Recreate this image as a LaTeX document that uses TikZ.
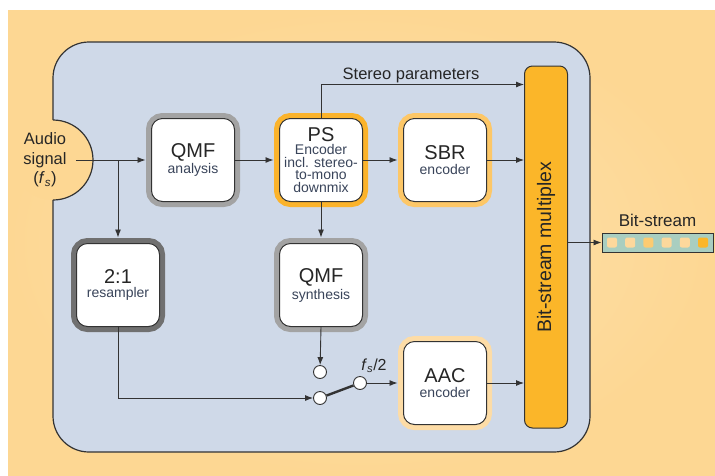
\documentclass[tikz,border=0pt]{standalone}
\usepackage{fontspec}
\setmainfont{Liberation Sans}
\usetikzlibrary{arrows.meta,positioning}

\definecolor{bgorange}{HTML}{FDD793}
\definecolor{bglight}{HTML}{FEE2B0}
\definecolor{panelblue}{HTML}{CFD9E8}
\definecolor{edgegray}{HTML}{333333}
\definecolor{framegray}{HTML}{A3A3A3}
\definecolor{framedark}{HTML}{707070}
\definecolor{frameps}{HTML}{FBB32B}
\definecolor{framesbr}{HTML}{FDC767}
\definecolor{frameaac}{HTML}{FDDCA6}
\definecolor{muxorange}{HTML}{FBB629}
\definecolor{bitsteal}{HTML}{A9CEC0}
\definecolor{bitpale}{HTML}{FDD89C}
\definecolor{bitmid}{HTML}{FDCB72}
\definecolor{titletext}{HTML}{262626}
\definecolor{subtext}{HTML}{39445A}

\newcommand{\titletxt}{\fontsize{20}{22}\selectfont\color{titletext}}
\newcommand{\fsamp}{\textit{f}\textsubscript{\textit{s}}}

\begin{document}
\begin{tikzpicture}[x=1pt,y=-1pt,>={Latex[length=8pt,width=6pt]},
	block/.style={draw=edgegray,fill=white,line width=1pt,rounded corners=11pt,
		minimum width=83pt,minimum height=83pt,align=center,inner sep=0pt,
		font=\fontsize{14}{12.5}\selectfont,text=subtext,
		preaction={draw=#1,line width=11pt}},
	conn/.style={draw=edgegray,line width=0.9pt},
	to_blk/.style={conn,->,shorten >=5.5pt},
	switch/.style={circle,draw=edgegray,fill=white,line width=0.9pt,inner sep=0pt,minimum size=13pt},
	lbl/.style={inner sep=0pt,text=titletext}]

	\useasboundingbox (0,0) rectangle (715,475);
	\shade[inner color=bglight,outer color=bgorange] (8,10) rectangle (715,475);

	% panel with the input notch
	\draw[draw=edgegray,fill=panelblue,line width=1.2pt,rounded corners=36pt] (53,42) rectangle (590,452);
	\fill[bgorange] (53,160) circle[radius=40];
	\draw[draw=edgegray,line width=1.2pt] (53,200) arc[start angle=90,end angle=-90,radius=40];

	\node[lbl,align=center,font=\fontsize{16.5}{19.5}\selectfont] (audio) at (45,160) {Audio\\signal\\(\fsamp)};
	\coordinate[right=9pt of audio.east] (audio_out);
	\coordinate (split) at (118,160);

	\node[block=framegray] (qmf_a) at (193,160) {\titletxt QMF\\[2pt]analysis};
	\node[block=frameps]   (ps_enc) at (321,160) {\titletxt PS\\[1pt]Encoder\\incl. stereo-\\to-mono\\downmix};
	\node[block=framesbr]  (sbr_enc) at (445,160) {\titletxt SBR\\[2pt]encoder};
	\node[block=framedark] (res) at (118,285) {\titletxt 2:1\\[2pt]resampler};
	\node[block=framegray] (qmf_s) at (321,285) {\titletxt QMF\\[2pt]synthesis};
	\node[block=frameaac]  (aac_enc) at (445,383) {\titletxt AAC\\[2pt]encoder};

	\node[draw=edgegray,fill=muxorange,line width=1pt,rounded corners=8pt,rotate=90,
		minimum width=362pt,minimum height=43pt,font=\fontsize{19.5}{21}\selectfont,text=titletext] (mux) at (546,247) {Bit-stream multiplex};

	\node[switch] (sw_a) at (320,372) {};
	\node[switch] (sw_b) at (320,398) {};
	\node[switch] (sw_c) at (360,383) {};
	\node[lbl,font=\fontsize{16}{18}\selectfont] (half_lbl) at ([xshift=14pt,yshift=3pt]sw_c.north) [above] {\fsamp/2};

	\node[draw=edgegray,fill=bitsteal,line width=1pt,minimum width=111pt,minimum height=19pt,inner sep=0pt] (bits) at (657.5,242.5) {};
	\foreach \k/\c in {0/bitpale,1/bitpale,2/bitmid,3/bitpale,4/bitpale,5/muxorange}
		\node[fill=\c,rounded corners=2pt,minimum size=10pt,inner sep=0pt] at ([xshift={(\k-2.5)*18.2pt}]bits) {};
	\node[lbl,font=\fontsize{17}{19}\selectfont] (bits_lbl) [above=6pt of bits] {Bit-stream};

	% connectors
	\draw[to_blk] (audio_out) -- (qmf_a);
	\draw[to_blk] (split) -- (res);
	\draw[to_blk] (qmf_a.east) -- (ps_enc);
	\draw[to_blk] (ps_enc.east) -- (sbr_enc);
	\draw[to_blk] (ps_enc.south) -- (qmf_s);
	\draw[conn,->] (sbr_enc.east) -- (sbr_enc.east -| mux.north);
	\draw[conn,->] (ps_enc.north) |- ([yshift=-19pt]mux.north |- mux.east);
	\node[lbl,font=\fontsize{16.5}{18}\selectfont,anchor=base] (stereo_lbl) at (411,79) {Stereo parameters};
	\draw[conn,->] (qmf_s.south) -- (sw_a);
	\draw[conn,->] (res.south) |- (sw_b);
	\draw[edgegray,line width=2.4pt] (sw_b) -- (sw_c);
	\draw[to_blk] (sw_c) -- (aac_enc);
	\draw[conn,->] (aac_enc.east) -- (aac_enc.east -| mux.north);
	\draw[conn,->] (mux.south |- bits.west) -- (bits.west);

\end{tikzpicture}
\end{document}
